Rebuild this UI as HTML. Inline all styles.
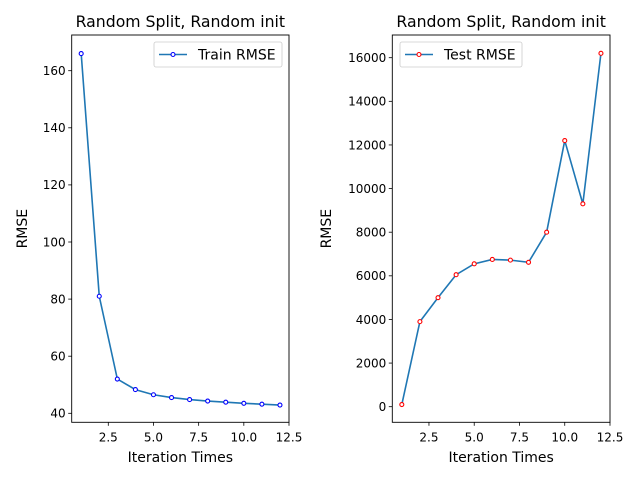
<!DOCTYPE html>
<html><head><meta charset="utf-8"><style>
body{margin:0;background:#fff}
svg text{font-family:"DejaVu Sans","Liberation Sans",sans-serif;fill:#000}
</style></head><body>
<svg width="640" height="480" xmlns="http://www.w3.org/2000/svg">
<g id="left"></g>
<g id="right"></g>
</svg>
<script>
const iterations=[1,2,3,4,5,6,7,8,9,10,11,12];
const trainRmse=[166,81,52,48.3,46.5,45.5,44.8,44.3,43.9,43.5,43.2,42.9];
const testRmse=[100,3900,5000,6050,6550,6750,6720,6620,8000,12200,9300,16200];
const xTicks=[2.5,5.0,7.5,10.0,12.5];
const xTickLabels=["2.5","5.0","7.5","10.0","12.5"];
const leftYTicks=[40,60,80,100,120,140,160];
const rightYTicks=[0,2000,4000,6000,8000,10000,12000,14000,16000];
const NS="http://www.w3.org/2000/svg";
function mk(p,t,a,txt){const e=document.createElementNS(NS,t);for(const k in a)e.setAttribute(k,a[k]);if(txt!==undefined)e.textContent=txt;p.appendChild(e);return e;}
function panel(g,cfg){
  const L=cfg.L,R=cfg.R,T=35,B=422.3;
  const xs=v=>L+(v-cfg.x0)*(R-L)/(12.5-cfg.x0);
  const ys=v=>cfg.yA+(v-cfg.vA)*(cfg.yB-cfg.yA)/(cfg.vB-cfg.vA);
  xTicks.forEach((t,i)=>{
    const x=xs(t);
    const tk=mk(g,'line',{x1:x,x2:x,y1:B,y2:B+3.5,stroke:'#000','stroke-width':0.8});
    
    
    const lb=mk(g,'text',{x:x,y:B+19,'text-anchor':'middle','font-size':12},xTickLabels[i]);
    
    
  });
  cfg.yt.forEach(t=>{
    const y=ys(t);
    const tk=mk(g,'line',{x1:L-3.5,x2:L,y1:y,y2:y,stroke:'#000','stroke-width':0.8});
    
    
    const lb=mk(g,'text',{x:L-6,y:y+4.3,'text-anchor':'end','font-size':12},String(t));
    
    
  });
  const pts=iterations.map((x,i)=>xs(x)+','+ys(cfg.data[i])).join(' ');
  const ln=mk(g,'polyline',{points:pts,fill:'none',stroke:'#1f77b4','stroke-width':1.6});
  
  
  iterations.forEach((x,i)=>{
    const c=mk(g,'circle',{cx:xs(x),cy:ys(cfg.data[i]),r:2,fill:'#fff',stroke:cfg.mc,'stroke-width':1.1});
    
    
  });
  const fr=mk(g,'rect',{x:L,y:T,width:R-L,height:B-T,fill:'none',stroke:'#000','stroke-width':0.9});
  
  
  const ti=mk(g,'text',{x:(L+R)/2,y:27,'text-anchor':'middle','font-size':15.7},'Random Split, Random init');
  
  
  const xl=mk(g,'text',{x:(L+R)/2,y:462,'text-anchor':'middle','font-size':14},'Iteration Times');
  
  
  const yl=mk(g,'text',{x:0,y:0,'text-anchor':'middle','font-size':14,transform:'translate('+cfg.ylx+','+((T+B)/2)+') rotate(-90)'},'RMSE');
  
  
  const lg=mk(g,'g',{});
  
  
  mk(lg,'rect',{x:cfg.lgx,y:42,width:cfg.lgw,height:25,rx:2,fill:'#fff',stroke:'#ccc','stroke-width':0.8});
  mk(lg,'line',{x1:cfg.lgx+5,x2:cfg.lgx+33,y1:54.5,y2:54.5,stroke:'#1f77b4','stroke-width':1.6});
  mk(lg,'circle',{cx:cfg.lgx+19,cy:54.5,r:2,fill:'#fff',stroke:cfg.mc,'stroke-width':1.1});
  mk(lg,'text',{x:cfg.lgx+44,y:59.5,'font-size':14},cfg.label);
}
panel(document.getElementById('left'),{L:71.7,R:289,x0:0.475,yA:70.7,vA:160,yB:413.3,vB:40,yt:leftYTicks,data:trainRmse,mc:'#0000ff',ylx:27,lgx:154,lgw:128,label:'Train RMSE'});
panel(document.getElementById('right'),{L:392.3,R:610,x0:0.475,yA:57.7,vA:16000,yB:406.7,vB:0,yt:rightYTicks,data:testRmse,mc:'#ff0000',ylx:331,lgx:400,lgw:122,label:'Test RMSE'});
</script>
</body></html>
